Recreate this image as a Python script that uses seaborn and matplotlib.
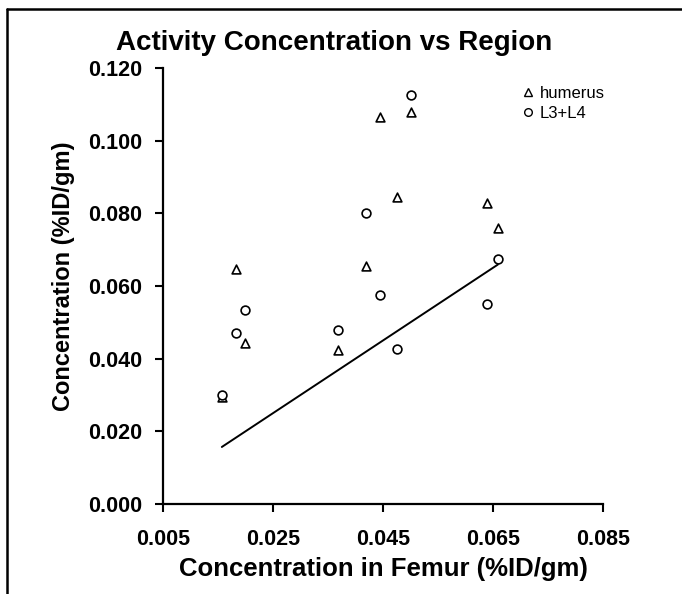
import matplotlib
matplotlib.use('Agg')
import matplotlib.pyplot as plt
import matplotlib.lines as mlines
import seaborn as sns
import pandas as pd

# valores
femur = [0.0157, 0.0183, 0.0199, 0.0369, 0.0419, 0.0444, 0.0476, 0.0501, 0.0640, 0.0659]
humerus = [0.0294, 0.0647, 0.0442, 0.0424, 0.0655, 0.1064, 0.0846, 0.1080, 0.0829, 0.0761]
l3_l4 = [0.0301, 0.0470, 0.0534, 0.0480, 0.0801, 0.0575, 0.0426, 0.1127, 0.0550, 0.0675]
x_ticks = [0.005, 0.025, 0.045, 0.065, 0.085]
y_ticks = [0.000, 0.020, 0.040, 0.060, 0.080, 0.100, 0.120]

df = pd.DataFrame({'femur': femur, 'humerus': humerus, 'L3+L4': l3_l4})

sns.set_style('white')
plt.rcParams['font.family'] = ['Liberation Sans', 'DejaVu Sans']
plt.rcParams['font.weight'] = 'bold'
plt.rcParams['text.color'] = 'black'
plt.rcParams['axes.labelcolor'] = 'black'
plt.rcParams['xtick.color'] = 'black'
plt.rcParams['ytick.color'] = 'black'

fig = plt.figure(figsize=(6.82, 5.94), dpi=100)
ax = fig.add_axes([0.239, 0.1515, 0.645, 0.734])

sns.scatterplot(data=df, x='femur', y='humerus', marker='^', s=40, facecolor='white',
                edgecolor='black', linewidth=1.2, ax=ax, zorder=3)
sns.scatterplot(data=df, x='femur', y='L3+L4', marker='o', s=40, facecolor='white',
                edgecolor='black', linewidth=1.2, ax=ax, zorder=3)
sns.lineplot(x=femur, y=femur, color='black', linewidth=1.4, ax=ax)

ax.set_xlim(0.005, 0.085)
ax.set_ylim(0.0, 0.120)
ax.set_xticks(x_ticks)
ax.set_yticks(y_ticks)
ax.set_xticklabels([f'{v:.3f}' for v in x_ticks], fontsize=15.5, fontweight='bold')
ax.set_yticklabels([f'{v:.3f}' for v in y_ticks], fontsize=15.5, fontweight='bold')
ax.tick_params(axis='both', direction='out', length=6, width=1.5, color='black',
               left=True, bottom=True)
ax.tick_params(axis='x', pad=12)
ax.tick_params(axis='y', pad=9)
for side in ['top', 'right']:
    ax.spines[side].set_visible(False)
for side in ['left', 'bottom']:
    ax.spines[side].set_color('black')
    ax.spines[side].set_linewidth(1.6)

ax.set_xlabel('Concentration in Femur (%ID/gm)', fontsize=18.5, fontweight='bold', labelpad=5)
ax.set_ylabel('Concentration (%ID/gm)', fontsize=17, fontweight='bold')
ax.yaxis.set_label_coords(-0.2, 0.523)
fig.text(0.49, 0.928, 'Activity Concentration vs Region', fontsize=20, fontweight='bold',
         ha='center', va='center')

h1 = mlines.Line2D([], [], marker='^', linestyle='none', markerfacecolor='white',
                   markeredgecolor='black', markersize=5.5, markeredgewidth=1)
h2 = mlines.Line2D([], [], marker='o', linestyle='none', markerfacecolor='white',
                   markeredgecolor='black', markersize=5.5, markeredgewidth=1)
leg = ax.legend([h1, h2], ['humerus', 'L3+L4'], loc='upper left', bbox_to_anchor=(0.795, 0.975),
                frameon=False, fontsize=12, handletextpad=0.2, handlelength=1.0,
                labelspacing=0.3, borderaxespad=0)
for t in leg.get_texts():
    t.set_fontweight('normal')

# moldura da figura (lados superior e esquerdo visíveis)
fig.add_artist(mlines.Line2D([0.0103, 1.0], [0.985, 0.985], color='black', linewidth=1.8,
                             transform=fig.transFigure))
fig.add_artist(mlines.Line2D([0.0103, 0.0103], [0.0, 0.985], color='black', linewidth=1.8,
                             transform=fig.transFigure))

fig.savefig('out.png', dpi=100)
